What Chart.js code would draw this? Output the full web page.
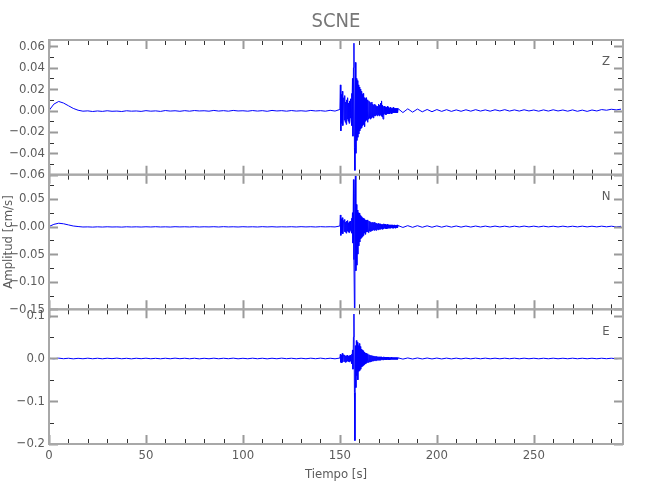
<!DOCTYPE html>
<html>
<head>
<meta charset="utf-8">
<script src="https://cdn.jsdelivr.net/npm/chart.js@4.4.1/dist/chart.umd.min.js"></script>
<style>
  html, body { margin: 0; background: #fff; }
</style>
</head>
<body>
<canvas id="sismo" width="650" height="500"></canvas>
<script>
// muestreo de cada tramo: [inicio (s), paso (s), muestras]
const tramos = [[0, 2.5, 60], [150, 0.25, 120], [180, 2.5, 47]];

// componente Z
const zPre = [
  0.000, 0.006, 0.0085, 0.007, 0.0045, 0.002, 0.0003, -0.0006, -0.0003, -0.0009,
  -0.0004, -0.0008, -0.0002, -0.0007, -0.0005, -0.0009, -0.0002, -0.0006, -0.0004, -0.0008,
  -0.0001, -0.0006, -0.0003, -0.0008, 0.0000, -0.0005, -0.0002, -0.0007, -0.0001, -0.0006,
  0.0000, -0.0004, -0.0002, -0.0006, 0.0001, -0.0005, -0.0001, -0.0006, 0.0001, -0.0004,
  -0.0002, -0.0006, 0.0000, -0.0005, -0.0001, -0.0007, 0.0001, -0.0004, -0.0001, -0.0006,
  0.0000, -0.0005, -0.0002, -0.0006, 0.0001, -0.0004, -0.0001, -0.0006, 0.0002, -0.0005
];
const zEvento = [
  0.001, 0.024, -0.019, 0.015, -0.012, 0.018, -0.014, 0.010,
  0.012, -0.009, 0.014, -0.011, 0.008, -0.013, 0.010, -0.008,
  0.012, -0.010, 0.007, -0.012, 0.009, -0.007, 0.011, -0.009,
  0.016, -0.014, 0.030, -0.024, 0.040, 0.063, -0.035, -0.056,
  0.045, -0.040, 0.030, -0.028, 0.028, -0.025, 0.024, -0.022,
  0.022, -0.019, 0.020, -0.017, 0.018, -0.016, 0.015, -0.014,
  0.016, -0.013, 0.012, -0.015, 0.011, -0.010, 0.012, -0.009,
  0.010, -0.011, 0.008, -0.008, 0.009, -0.007, 0.008, -0.008,
  0.007, -0.007, 0.008, -0.006, 0.006, -0.007, 0.005, -0.005,
  0.006, -0.005, 0.005, -0.004, 0.004, -0.005, 0.004, -0.004,
  0.006, -0.005, 0.005, -0.004, 0.007, -0.005, 0.009, -0.006,
  0.005, -0.008, 0.004, -0.004, 0.004, -0.003, 0.003, -0.004,
  0.003, -0.003, 0.004, -0.003, 0.003, -0.003, 0.002, -0.003,
  0.003, -0.002, 0.002, -0.003, 0.002, -0.002, 0.003, -0.002,
  0.002, -0.002, 0.002, -0.002, 0.002, -0.002, 0.002, -0.002
];
const zCola = [
  0.0018, -0.0019, 0.0016, -0.0015, 0.0014, -0.0012, 0.0010, -0.0011, 0.0009, -0.0008,
  0.0008, -0.0008, 0.0006, -0.0007, 0.0007, -0.0006, 0.0008, -0.0005, 0.0006, -0.0006,
  0.0007, -0.0004, 0.0008, -0.0005, 0.0006, -0.0005, 0.0007, -0.0004, 0.0005, -0.0006,
  0.0006, -0.0005, 0.0007, -0.0004, 0.0005, -0.0006, 0.0006, -0.0007, 0.0004, -0.0008,
  0.0005, -0.0004, 0.0009, 0.0003, 0.0012, 0.0006, 0.0013
];

// componente N
const nPre = [
  0.000, 0.004, 0.006, 0.005, 0.003, 0.001, 0.000, -0.0008, -0.0006, -0.0010,
  -0.0005, -0.0009, -0.0004, -0.0008, -0.0006, -0.0010, -0.0004, -0.0008, -0.0005, -0.0009,
  -0.0004, -0.0008, -0.0003, -0.0008, -0.0005, -0.0009, -0.0003, -0.0007, -0.0004, -0.0008,
  -0.0003, -0.0008, -0.0004, -0.0007, -0.0003, -0.0008, -0.0002, -0.0007, -0.0004, -0.0008,
  -0.0003, -0.0007, -0.0004, -0.0008, -0.0002, -0.0007, -0.0003, -0.0008, -0.0004, -0.0007,
  -0.0003, -0.0008, -0.0002, -0.0007, -0.0003, -0.0008, -0.0002, -0.0006, -0.0003, -0.0007
];
const nEvento = [
  0.001, 0.021, -0.016, 0.014, -0.012, 0.016, -0.013, 0.010,
  0.011, -0.009, 0.013, -0.010, 0.008, -0.012, 0.010, -0.008,
  0.011, -0.010, 0.007, -0.011, 0.009, -0.007, 0.010, -0.009,
  0.015, -0.012, 0.025, -0.030, 0.085, -0.060, -0.148, 0.060,
  0.092, -0.080, 0.040, -0.070, 0.030, -0.050, 0.025, -0.035,
  0.024, -0.028, 0.020, -0.022, 0.018, -0.020, 0.016, -0.018,
  0.015, -0.016, 0.014, -0.012, 0.012, -0.014, 0.011, -0.010,
  0.012, -0.010, 0.009, -0.011, 0.010, -0.008, 0.009, -0.009,
  0.008, -0.008, 0.007, -0.007, 0.008, -0.006, 0.007, -0.007,
  0.008, -0.006, 0.006, -0.007, 0.006, -0.005, 0.005, -0.006,
  0.006, -0.005, 0.005, -0.005, 0.005, -0.004, 0.004, -0.005,
  0.004, -0.004, 0.005, -0.004, 0.004, -0.003, 0.004, -0.004,
  0.003, -0.004, 0.004, -0.003, 0.003, -0.003, 0.003, -0.003,
  0.003, -0.003, 0.003, -0.002, 0.003, -0.003, 0.002, -0.003,
  0.003, -0.002, 0.002, -0.003, 0.002, -0.002, 0.003, -0.002
];
const nCola = [
  0.0018, -0.0016, 0.0016, -0.0014, 0.0015, -0.0013, 0.0013, -0.0012, 0.0012, -0.0011,
  0.0011, -0.0010, 0.0010, -0.0010, 0.0009, -0.0009, 0.0009, -0.0008, 0.0008, -0.0008,
  0.0008, -0.0007, 0.0007, -0.0008, 0.0007, -0.0007, 0.0008, -0.0006, 0.0007, -0.0007,
  0.0007, -0.0006, 0.0006, -0.0007, 0.0007, -0.0006, 0.0006, -0.0006, 0.0007, -0.0006,
  0.0006, -0.0006, 0.0007, -0.0005, 0.0006, -0.0006, 0.0004
];

// componente E
const ePre = [
  0.0005, -0.0007, 0.0008, -0.0005, 0.0006, -0.0008, 0.0004, -0.0006, 0.0007, -0.0006,
  0.0006, -0.0007, 0.0006, -0.0004, 0.0008, -0.0006, 0.0005, -0.0008, 0.0006, -0.0005,
  0.0007, -0.0006, 0.0004, -0.0007, 0.0006, -0.0006, 0.0008, -0.0005, 0.0006, -0.0007,
  0.0006, -0.0008, 0.0005, -0.0006, 0.0007, -0.0006, 0.0006, -0.0005, 0.0008, -0.0007,
  0.0005, -0.0006, 0.0007, -0.0006, 0.0006, -0.0008, 0.0006, -0.0006, 0.0008, -0.0005,
  0.0006, -0.0007, 0.0006, -0.0006, 0.0007, -0.0005, 0.0008, -0.0006, 0.0006, -0.0007
];
const eEvento = [
  0.001, 0.010, -0.009, 0.008, -0.010, 0.012, -0.008, 0.007,
  0.009, -0.007, 0.008, -0.009, 0.006, -0.008, 0.007, -0.006,
  0.008, -0.007, 0.006, -0.008, 0.007, -0.006, 0.008, -0.007,
  0.010, -0.012, 0.020, -0.025, 0.050, 0.104, -0.080, -0.192,
  0.030, -0.068, 0.042, -0.040, 0.038, -0.050, 0.030, -0.030,
  0.035, -0.028, 0.028, -0.025, 0.022, -0.020, 0.020, -0.018,
  0.018, -0.016, 0.015, -0.014, 0.013, -0.012, 0.012, -0.011,
  0.011, -0.010, 0.010, -0.009, 0.009, -0.008, 0.008, -0.008,
  0.007, -0.007, 0.007, -0.006, 0.006, -0.006, 0.006, -0.005,
  0.005, -0.005, 0.005, -0.005, 0.005, -0.004, 0.004, -0.004,
  0.004, -0.004, 0.004, -0.004, 0.004, -0.003, 0.004, -0.003,
  0.003, -0.003, 0.004, -0.003, 0.003, -0.003, 0.003, -0.003,
  0.003, -0.003, 0.003, -0.002, 0.003, -0.003, 0.002, -0.003,
  0.002, -0.002, 0.003, -0.002, 0.002, -0.002, 0.002, -0.002,
  0.002, -0.002, 0.002, -0.002, 0.002, -0.002, 0.002, -0.002
];
const eCola = [
  0.0015, -0.0014, 0.0013, -0.0012, 0.0012, -0.0011, 0.0011, -0.0010, 0.0010, -0.0010,
  0.0009, -0.0009, 0.0008, -0.0009, 0.0008, -0.0008, 0.0008, -0.0007, 0.0008, -0.0007,
  0.0007, -0.0007, 0.0007, -0.0006, 0.0007, -0.0007, 0.0007, -0.0006, 0.0006, -0.0007,
  0.0006, -0.0006, 0.0007, -0.0006, 0.0006, -0.0006, 0.0007, -0.0006, 0.0006, -0.0006,
  0.0006, -0.0006, 0.0006, -0.0005, 0.0006, -0.0006, 0.0004
];

// marcas de los ejes
const xTicks = [0, 50, 100, 150, 200, 250];
const zTicks = [-0.06, -0.04, -0.02, 0.00, 0.02, 0.04, 0.06];
const zEtiq = ['\u22120.06', '\u22120.04', '\u22120.02', '0.00', '0.02', '0.04', '0.06'];
const zMenores = [-0.05, -0.03, -0.01, 0.01, 0.03, 0.05];
const nTicks = [-0.15, -0.10, -0.05, 0.00, 0.05];
const nEtiq = ['\u22120.15', '\u22120.10', '\u22120.05', '\u22120.00', '0.05'];
const nMenores = [-0.125, -0.075, -0.025, 0.025, 0.075];
const eTicks = [-0.2, -0.1, 0.0, 0.1];
const eEtiq = ['\u22120.2', '\u22120.1', '0.0', '0.1'];
const eMenores = [-0.15, -0.05, 0.05];

const tiempo = [];
tramos.forEach(([t0, dt, n]) => {
  for (let i = 0; i < n; i++) tiempo.push(t0 + i * dt);
});
const zVals = zPre.concat(zEvento, zCola);
const nVals = nPre.concat(nEvento, nCola);
const eVals = ePre.concat(eEvento, eCola);

const fuente = '"Liberation Sans Narrow", "DejaVu Sans Condensed", "Roboto Condensed", sans-serif';
const gris = '#5c5c5c';
const marco = '#a8a8a8';

const paneles = [
  { id: 'yZ', letra: 'Z', vals: zVals, min: -0.06, max: 0.066, ticks: zTicks, etiq: zEtiq, menores: zMenores },
  { id: 'yN', letra: 'N', vals: nVals, min: -0.15, max: 0.094, ticks: nTicks, etiq: nEtiq, menores: nMenores },
  { id: 'yE', letra: 'E', vals: eVals, min: -0.2, max: 0.115, ticks: eTicks, etiq: eEtiq, menores: eMenores }
];

function ejeY(p) {
  return {
    type: 'linear',
    position: 'left',
    stack: 'sismo',
    stackWeight: 1,
    min: p.min,
    max: p.max,
    grid: { display: false, drawTicks: false },
    border: { display: false },
    afterFit: (s) => { s.width = 49; },
    afterBuildTicks: (s) => { s.ticks = p.ticks.map(v => ({ value: v })); },
    ticks: {
      autoSkip: false,
      padding: 4,
      color: gris,
      font: { family: fuente, size: 13 },
      callback: (v, i) => p.etiq[i]
    }
  };
}

// marcos, marcas hacia dentro y letras de cada componente
const marcos = {
  id: 'marcos',
  afterDatasetsDraw(chart) {
    const { ctx, chartArea: a, scales } = chart;
    const xs = scales.x;
    ctx.save();
    paneles.forEach((p) => {
      const ys = scales[p.id];
      const top = ys.top, bot = ys.bottom;

      // marcas del eje x, arriba y abajo
      for (let t = 0; t <= xs.max; t += 10) {
        const px = Math.round(xs.getPixelForValue(t)) + 0.5;
        const mayor = t % 50 === 0;
        const largo = mayor ? 9 : 5;
        ctx.strokeStyle = mayor ? '#9a9a9a' : '#333';
        ctx.lineWidth = mayor ? 2 : 1;
        ctx.beginPath();
        ctx.moveTo(px, top); ctx.lineTo(px, top + largo);
        ctx.moveTo(px, bot); ctx.lineTo(px, bot - largo);
        ctx.stroke();
      }

      // marcas del eje y, izquierda y derecha
      const dibujaY = (v, mayor) => {
        const py = Math.round(ys.getPixelForValue(v)) + 0.5;
        const largo = mayor ? 9 : 5;
        ctx.strokeStyle = mayor ? '#9a9a9a' : '#333';
        ctx.lineWidth = mayor ? 2 : 1;
        ctx.beginPath();
        ctx.moveTo(a.left, py); ctx.lineTo(a.left + largo, py);
        ctx.moveTo(a.right, py); ctx.lineTo(a.right - largo, py);
        ctx.stroke();
      };
      p.ticks.forEach(v => dibujaY(v, true));
      p.menores.forEach(v => dibujaY(v, false));

      // marco del panel
      ctx.strokeStyle = marco;
      ctx.lineWidth = 2;
      ctx.strokeRect(a.left, top, a.right - a.left, bot - top);

      // letra de la componente
      ctx.fillStyle = gris;
      ctx.font = '13px ' + fuente;
      ctx.textAlign = 'center';
      ctx.textBaseline = 'middle';
      ctx.fillText(p.letra, a.right - 17, top + 22);
    });

    // titulo del eje y
    ctx.translate(9, (a.top + a.bottom) / 2);
    ctx.rotate(-Math.PI / 2);
    ctx.fillStyle = gris;
    ctx.font = '13px ' + fuente;
    ctx.textAlign = 'center';
    ctx.textBaseline = 'middle';
    ctx.fillText('Amplitud [cm/s]', 0, 0);
    ctx.restore();
  }
};

new Chart(document.getElementById('sismo'), {
  type: 'line',
  data: {
    datasets: paneles.map(p => ({
      label: p.letra,
      data: tiempo.map((t, i) => ({ x: t, y: p.vals[i] })),
      yAxisID: p.id,
      borderColor: '#0000ff',
      borderWidth: 1,
      pointRadius: 0,
      tension: 0,
      fill: false
    }))
  },
  options: {
    responsive: false,
    animation: false,
    events: [],
    layout: { padding: { left: 0, right: 27, top: 0, bottom: 0 } },
    scales: {
      x: {
        type: 'linear',
        position: 'bottom',
        min: 0,
        max: 296,
        grid: { display: false, drawTicks: false },
        border: { display: false },
        afterFit: (s) => { s.height = 56; },
        afterBuildTicks: (s) => { s.ticks = xTicks.map(v => ({ value: v })); },
        ticks: {
          autoSkip: false,
          maxRotation: 0,
          padding: 4,
          color: gris,
          font: { family: fuente, size: 13 },
          callback: (v) => String(v)
        },
        title: {
          display: true,
          text: 'Tiempo [s]',
          color: gris,
          font: { family: fuente, size: 13 },
          padding: { top: 0, bottom: 18 }
        }
      },
      // el ultimo eje definido queda arriba en la pila
      yE: ejeY(paneles[2]),
      yN: ejeY(paneles[1]),
      yZ: ejeY(paneles[0])
    },
    plugins: {
      legend: { display: false },
      tooltip: { enabled: false },
      title: {
        display: true,
        text: 'SCNE',
        fullSize: false,
        color: '#777',
        font: { family: fuente, size: 20, weight: 'normal' },
        padding: { top: 10, bottom: 6 }
      }
    }
  },
  plugins: [marcos]
});
</script>
</body>
</html>
